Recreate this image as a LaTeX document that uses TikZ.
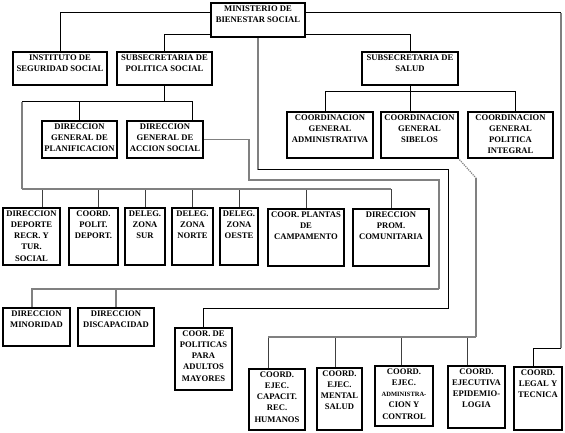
\documentclass[tikz,border=0pt]{standalone}
\usepackage{fontspec}
\setmainfont{Liberation Serif}
\usetikzlibrary{calc}
\pgfdeclarelayer{back}
\pgfdeclarelayer{bg}
\pgfsetlayers{back,bg,main}
\definecolor{lg}{HTML}{808080}
\definecolor{dg}{HTML}{404040}
\newcommand\bxf{\fontsize{8.6}{11.2}\selectfont\bfseries}
\newcommand\obx[6]{\node[obox] (#1) at (#2,#3) {\parbox[c][#5pt][t]{#4pt}{\centering\rule{0pt}{8.3pt}#6\par}};}
\begin{document}
\begin{tikzpicture}[x=1pt,y=-1pt,
  obox/.style={draw, line width=1.1pt, fill=white, inner sep=0pt, outer sep=0pt, anchor=north west, font=\bxf},
  bl/.style={line width=1pt, black},
  gl/.style={line width=1.2pt, lg},
  dl/.style={line width=1pt, dg}]
\begin{pgfonlayer}{back}
\fill[white] (0,0) rectangle (565,433);
\end{pgfonlayer}
\useasboundingbox (0,0) rectangle (565,433);
% boxes
\obx{min}{211}{3}{94}{34}{MINISTERIO DE\\BIENESTAR SOCIAL}
\obx{inst}{13}{52}{94}{33}{INSTITUTO DE\\SEGURIDAD SOCIAL}
\obx{subpol}{117}{52}{95}{33}{SUBSECRETARIA DE\\POLITICA SOCIAL}
\obx{subsal}{362}{52}{96}{33}{SUBSECRETARIA DE\\SALUD}
\obx{plan}{42}{121}{75}{37}{DIRECCION\\GENERAL DE\\PLANIFICACION}
\obx{accion}{127}{121}{76}{37}{DIRECCION\\GENERAL DE\\ACCION SOCIAL}
\obx{cadm}{287}{112}{86}{46}{COORDINACION\\GENERAL\\ADMINISTRATIVA}
\obx{csib}{381}{112}{77}{46}{COORDINACION\\GENERAL\\SIBELOS}
\obx{cpol}{468}{112}{85}{46}{COORDINACION\\GENERAL\\POLITICA\\INTEGRAL}
\obx{dep}{3}{208}{57}{57}{DIRECCION\\DEPORTE\\RECR. Y\\TUR.\\SOCIAL}
\obx{cpd}{69}{208}{49}{57}{COORD.\\POLIT.\\DEPORT.}
\obx{sur}{125}{208}{40}{57}{DELEG.\\ZONA\\SUR}
\obx{norte}{172}{208}{41}{57}{DELEG.\\ZONA\\NORTE}
\obx{oeste}{220}{208}{38}{57}{DELEG.\\ZONA\\OESTE}
\obx{camp}{268}{209}{76}{57}{COOR. PLANTAS\\DE\\CAMPAMENTO}
\obx{prom}{353}{209}{76}{57}{DIRECCION\\PROM.\\COMUNITARIA}
\obx{minor}{3}{308}{67}{38}{DIRECCION\\MINORIDAD}
\obx{disc}{78}{308}{76}{38}{DIRECCION\\DISCAPACIDAD}
\obx{adult}{175}{328}{57}{62}{COOR. DE\\POLITICAS\\PARA\\ADULTOS\\MAYORES}
\obx{rrhh}{249}{369}{56}{61}{COORD.\\EJEC.\\CAPACIT.\\REC.\\HUMANOS}
\obx{mental}{317}{368}{45}{62}{COORD.\\EJEC.\\MENTAL\\SALUD}
\obx{admc}{375}{366}{58}{60}{COORD.\\EJEC.\\{\fontsize{6.5}{11.2}\selectfont ADMINISTRA-}\\CION Y\\CONTROL}
\obx{epid}{448}{366}{57}{62}{COORD.\\EJECUTIVA\\EPIDEMIO-\\LOGIA}
\obx{legal}{514}{367}{48}{63}{COORD.\\LEGAL Y\\TECNICA}
% connectors
\begin{pgfonlayer}{bg}
\coordinate (r1) at (561,13);
\coordinate (r2) at (561,348);
\draw[bl] ([yshift=-10pt]min.north west) -| (inst.north);
\draw[bl] ([yshift=-10pt]min.north east) -- (r1);
\draw[gl] (r1) -- (r2);
\draw[bl] (r2) -| ([xshift=-5pt]legal.north);
\draw[bl] (subpol.north) |- ([yshift=17pt]subsal.north) -- (subsal.north);
% ministerio to adultos mayores
\coordinate (m1) at (258,170);
\coordinate (m2) at (448,170);
\coordinate (m3) at (448,308);
\draw[gl] (min.south) -- (m1);
\draw[bl] (m1) -- (m2) -- (m3) -| (adult.north);
% politica social
\coordinate (p1) at (22,102);
\coordinate (p2) at (22,189);
\coordinate (p3) at (391,189);
\draw[bl] (subpol.south) |- (p1);
\draw[bl] (plan.north) |- (p1);
\draw[bl] ([xshift=-11pt]accion.north east) |- (p1);
\draw[gl] (p1) -- (p2);
\draw[dl] ([xshift=10.5pt]dep.north) |- (p2);
\draw[dl] ([xshift=4.5pt]cpd.north) |- (p2);
\draw[dl] (sur.north) |- (p2);
\draw[dl] (norte.north) |- (p2);
\draw[dl] (oeste.north) |- (p2);
\draw[dl] (camp.north) |- (p2);
\draw[dl] (prom.north) |- (p2);
\draw[gl] (p2) -- (p3);
% accion social
\coordinate (a2) at (249,180);
\coordinate (a3) at (439,180);
\coordinate (a4) at (439,289);
\draw[gl] (accion.east) -| (a2) -- (a3) -- (a4);
\draw[gl] ([xshift=-4.5pt]minor.north) |- (a4);
\draw[gl] (disc.north) |- (a4);
% salud
\coordinate (h1) at (410,92);
\draw[bl] (subsal.south) -- (csib.north -| subsal.south);
\draw[bl] ([xshift=-5pt]cadm.north) |- (h1);
\draw[bl] ([xshift=4.5pt]cpol.north) |- (h1);
% sibelos
\coordinate (s1) at (476,178);
\coordinate (s2) at (476,337);
\coordinate (s3) at (268,337);
\draw[gl, densely dotted] (csib.south east) -- (s1);
\draw[gl] (s1) -- (s2);
\draw[dl] ([xshift=-9pt]rrhh.north) |- (s2);
\draw[dl] ([xshift=-4.5pt]mental.north) |- (s2);
\draw[dl] ([xshift=-3pt]admc.north) |- (s2);
\draw[dl] ([xshift=-9.5pt]epid.north) |- (s2);
\draw[gl] (s2) -- (s3);
\end{pgfonlayer}
\end{tikzpicture}
\end{document}
